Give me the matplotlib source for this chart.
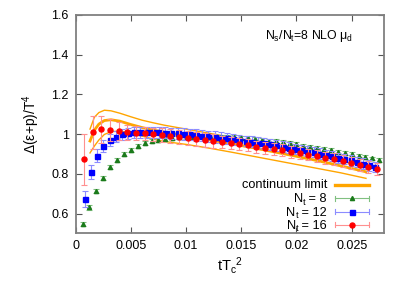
import numpy as np
import matplotlib
matplotlib.use("Agg")
import matplotlib.pyplot as plt
from matplotlib.transforms import IdentityTransform

plt.rcParams['font.family'] = ['Liberation Sans', 'DejaVu Sans']
plt.rcParams['mathtext.fontset'] = 'custom'
plt.rcParams['mathtext.rm'] = 'Liberation Sans'
plt.rcParams['mathtext.it'] = 'Liberation Sans'

# ---- data ----
# Nt = 8
x8 = np.arange(1, 45) * 0.000625
y8 = [0.547, 0.631, 0.711, 0.778, 0.832, 0.869, 0.899, 0.921, 0.939, 0.953,
      0.963, 0.970, 0.976, 0.980, 0.983, 0.985, 0.987, 0.988, 0.988, 0.988,
      0.987, 0.986, 0.984, 0.981, 0.978, 0.975, 0.971, 0.967, 0.963, 0.958,
      0.953, 0.948, 0.942, 0.937, 0.931, 0.925, 0.919, 0.912, 0.906, 0.899,
      0.892, 0.885, 0.877, 0.869]
e8 = [0.012, 0.011] + [0.010] * 42

# Nt = 12
x12 = 0.00083 + np.arange(48) * 0.00056
y12 = [0.673, 0.810, 0.890, 0.941, 0.968, 0.986, 0.998, 1.005, 1.008, 1.009,
       1.010, 1.010, 1.009, 1.007, 1.005, 1.003, 1.000, 0.998, 0.995, 0.992,
       0.989, 0.985, 0.982, 0.978, 0.974, 0.970, 0.966, 0.962, 0.957, 0.953,
       0.948, 0.943, 0.937, 0.932, 0.926, 0.920, 0.914, 0.908, 0.902, 0.895,
       0.888, 0.881, 0.874, 0.867, 0.859, 0.851, 0.842, 0.833]
e12 = [0.040, 0.036, 0.033, 0.031, 0.030] + [0.028] * 20 + [0.026] * 23

# Nt = 16
x16 = np.arange(1, 36) * 0.00078
y16 = [0.872, 1.008, 1.023, 1.020, 1.015, 1.008, 1.005, 1.003, 0.998, 0.995,
       0.991, 0.987, 0.982, 0.977, 0.972, 0.966, 0.961, 0.955, 0.949, 0.943,
       0.937, 0.931, 0.925, 0.918, 0.911, 0.904, 0.897, 0.889, 0.881, 0.873,
       0.864, 0.855, 0.846, 0.836, 0.822]
e16 = [0.130, 0.085, 0.070, 0.055, 0.045, 0.040] + [0.035] * 10 + [0.030] * 19

# continuum limit band
xc = [0.0013, 0.0017, 0.0021, 0.0026, 0.0032, 0.004, 0.005, 0.006, 0.007,
      0.008, 0.010, 0.012, 0.014, 0.016, 0.018, 0.020, 0.022, 0.024, 0.0263]
yc_up = [1.025, 1.085, 1.108, 1.120, 1.117, 1.105, 1.087, 1.070, 1.057,
         1.045, 1.025, 1.005, 0.985, 0.962, 0.940, 0.915, 0.890, 0.865, 0.835]
yc_mid = [0.965, 1.020, 1.050, 1.068, 1.072, 1.065, 1.048, 1.033, 1.020,
          1.010, 0.990, 0.972, 0.952, 0.932, 0.910, 0.888, 0.865, 0.840, 0.810]
yc_lo = [0.905, 0.940, 0.970, 0.998, 1.012, 1.015, 1.005, 0.990, 0.975,
         0.963, 0.948, 0.930, 0.910, 0.889, 0.868, 0.847, 0.826, 0.805, 0.777]

xticks = [0, 0.005, 0.01, 0.015, 0.02, 0.025]
xticklabels = ['0', '0.005', '0.01', '0.015', '0.02', '0.025']
yticks = [0.6, 0.8, 1.0, 1.2, 1.4, 1.6]
yticklabels = ['0.6', '0.8', '1', '1.2', '1.4', '1.6']

legend_first = 'continuum limit'
legend_nt = ['8', '12', '16']

# ---- figure ----
fig = plt.figure(figsize=(4.09, 2.86), dpi=100)
ax = fig.add_axes([0.185, 0.184, 0.753, 0.764])

orange = '#ffa500'
c8, ec8 = '#1a7a1a', '#80c080'
c12, ec12 = '#0000ff', '#8c8cff'
c16, ec16 = '#ff0000', '#ff9090'

ax.plot(xc, yc_up, color=orange, lw=1.0, zorder=2)
ax.plot(xc, yc_lo, color=orange, lw=1.0, zorder=2)
ax.plot(xc, yc_mid, color=orange, lw=2.0, zorder=2)

ax.errorbar(x8, y8, yerr=e8, fmt='^', ms=3, color=c8, ecolor=ec8,
            elinewidth=0.8, capsize=2, capthick=0.8, zorder=3)
ax.errorbar(x12, y12, yerr=e12, fmt='s', ms=3.6, color=c12, ecolor=ec12,
            elinewidth=0.8, capsize=2, capthick=0.8, zorder=4)
ax.errorbar(x16, y16, yerr=e16, fmt='o', ms=3.6, color=c16, ecolor=ec16,
            elinewidth=0.8, capsize=2, capthick=0.8, zorder=5)

ax.set_xlim(0, 0.0279)
ax.set_ylim(0.5, 1.6)
ax.set_xticks(xticks)
ax.set_xticklabels(xticklabels)
ax.set_yticks(yticks)
ax.set_yticklabels(yticklabels)
ax.tick_params(direction='in', length=4, width=0.8, color='#555555',
               top=True, right=True, labelsize=9, pad=5)
for s in ax.spines.values():
    s.set_color('#808080')
    s.set_linewidth(1.3)

ax.set_xlabel(r'tT$_\mathregular{c}$$^\mathregular{2}$', fontsize=10.5, labelpad=2)
ax.set_ylabel('Δ(ε+p)/T$^\\mathregular{4}$', fontsize=10, labelpad=7)

ax.text(0.90, 0.905, r'N$_\mathregular{s}$/N$_\mathregular{t}$=8 NLO $\mu_\mathregular{d}$',
        transform=ax.transAxes, ha='right', va='center', fontsize=8.8)

# ---- manual legend (gnuplot style: text right, sample at right) ----
rows = [0.222, 0.160, 0.100, 0.040]
tx = 0.816
sx0, sx1, smid = 0.842, 0.952, 0.897
T = ax.transAxes
ax.text(tx, rows[0], legend_first, transform=T, ha='right', va='center', fontsize=9.2)
ax.plot([sx0, sx1], [rows[0]] * 2, color=orange, lw=2.4, transform=T,
        clip_on=False, zorder=6)

renderer = fig.canvas.get_renderer()
ident = IdentityTransform()
for lab, yy, col, ecol, mk, ms in zip(legend_nt, rows[1:],
                                       [c8, c12, c16], [ec8, ec12, ec16],
                                       ['^', 's', 'o'], [3, 3.6, 3.6]):
    px, py = T.transform((tx, yy))
    base = py - 4.0
    t1 = ax.text(px, base, ' = ' + lab, transform=ident, ha='right',
                 va='baseline', fontsize=9.2)
    x1 = t1.get_window_extent(renderer).x0
    t2 = ax.text(x1, base - 2.5, 't', transform=ident, ha='right',
                 va='baseline', fontsize=6.6)
    x2 = t2.get_window_extent(renderer).x0
    ax.text(x2, base, 'N', transform=ident, ha='right', va='baseline',
            fontsize=9.2)
    ax.plot([sx0, sx1], [yy, yy], color=ecol, lw=0.8, transform=T,
            clip_on=False, zorder=6)
    for xe in (sx0, sx1):
        ax.plot([xe, xe], [yy - 0.012, yy + 0.012], color=ecol, lw=0.8,
                transform=T, clip_on=False, zorder=6)
    ax.plot([smid], [yy], marker=mk, ms=ms, color=col, transform=T,
            clip_on=False, zorder=7, linestyle='none')

fig.savefig('out.png', dpi=100)
